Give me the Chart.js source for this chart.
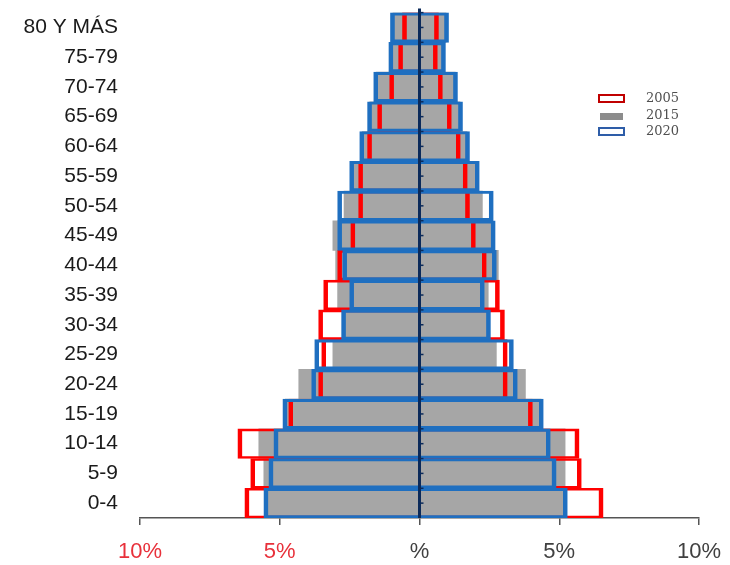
<!DOCTYPE html>
<html>
<head>
<meta charset="utf-8">
<script src="https://cdn.jsdelivr.net/npm/chart.js@4.4.1/dist/chart.umd.min.js"></script>
<style>
  body { margin: 0; background: #fff; }
  #wrap { position: relative; width: 730px; height: 565px; }
  #legend { position: absolute; left: 598px; top: 90px; font: 13px "DejaVu Serif", serif; color: #505050; }
  #legend div { height: 16.5px; line-height: 16.5px; white-space: nowrap; }
  #legend span { display: inline-block; width: 27px; height: 9px; box-sizing: border-box; margin-right: 21px; vertical-align: -1px; }
</style>
</head>
<body>
<div id="wrap">
  <canvas id="myChart"></canvas>
  <div id="legend">
    <div><span style="border:2px solid #c00000"></span>2005</div>
    <div><span style="background:#8c8c8c;height:7px;width:23px;margin-left:2px;margin-right:23px"></span>2015</div>
    <div><span style="border:2px solid #2e5da8"></span>2020</div>
  </div>
</div>
<script>
const ageGroups = ["80 Y MÁS","75-79","70-74","65-69","60-64","55-59","50-54","45-49","40-44","35-39","30-34","25-29","20-24","15-19","10-14","5-9","0-4"];

// % of population, left side (hombres) and right side (mujeres)
const left2005  = [0.61,0.75,1.07,1.50,1.86,2.18,2.18,2.46,2.93,3.43,3.61,3.50,3.61,4.68,6.50,6.04,6.25];
const right2005 = [0.68,0.64,0.82,1.14,1.46,1.71,1.79,2.00,2.39,2.86,3.04,3.14,3.14,4.04,5.71,5.79,6.57];
const left2015  = [0.95,1.00,1.55,1.78,2.05,2.40,2.70,3.10,3.00,2.93,2.75,3.10,4.32,4.80,5.75,5.57,5.45];
const right2015 = [0.95,0.85,1.28,1.45,1.70,2.05,2.25,2.60,2.82,2.46,2.45,2.75,3.79,4.35,5.21,5.21,5.20];
const left2020  = [1.04,1.10,1.64,1.86,2.14,2.50,2.93,2.93,2.75,2.50,2.79,3.75,3.86,4.89,5.21,5.39,5.57];
const right2020 = [1.04,0.93,1.36,1.54,1.79,2.14,2.64,2.71,2.75,2.32,2.54,3.36,3.50,4.43,4.68,4.89,5.29];

const xTicks = [-10,-5,0,5,10];

function span(l, r) { return l.map((v, i) => [-v, r[i]]); }

const zeroLine = {
  id: 'zeroLine',
  afterDatasetsDraw(chart) {
    const c = chart.ctx, x = chart.scales.x.getPixelForValue(0), a = chart.chartArea;
    c.save();
    c.strokeStyle = '#0b2a5a';
    c.lineWidth = 3;
    c.beginPath();
    c.moveTo(x, a.top - 4);
    c.lineTo(x, a.bottom);
    c.stroke();
    c.lineWidth = 1.5;
    for (let i = 0; i < ageGroups.length; i++) {
      for (const d of [-0.5, 0]) {
        const y = chart.scales.y.getPixelForValue(i + d);
        c.beginPath();
        c.moveTo(x, y);
        c.lineTo(x + 4, y);
        c.stroke();
      }
    }
    c.restore();
  }
};

const ctx = document.getElementById("myChart").getContext("2d");
const chart = new Chart(ctx, {
  type: "bar",
  data: {
    labels: ageGroups,
    datasets: [
      {
        label: '2005',
        data: span(left2005, right2005),
        backgroundColor: 'rgba(0,0,0,0)',
        borderColor: '#ff0000',
        borderWidth: {left: 4, right: 4, top: 2, bottom: 2},
        order: 2
      },
      {
        label: '2015',
        data: span(left2015, right2015),
        backgroundColor: '#a6a6a6',
        borderWidth: 0,
        order: 3
      },
      {
        label: '2020',
        data: span(left2020, right2020),
        backgroundColor: 'rgba(0,0,0,0)',
        borderColor: '#1f6fc0',
        borderWidth: {left: 4, right: 4, top: 2.5, bottom: 2.5},
        order: 1
      }
    ]
  },
  options: {
    indexAxis: 'y',
    responsive: true,
    maintainAspectRatio: false,
    animation: false,
    datasets: {
      bar: { grouped: false, barPercentage: 1, categoryPercentage: 1, borderSkipped: false }
    },
    layout: { padding: {left: 10, right: 31, top: 12, bottom: 0} },
    plugins: {
      legend: { display: false },
      tooltip: { enabled: false }
    },
    scales: {
      x: {
        min: -10,
        max: 10,
        afterBuildTicks: s => { s.ticks = xTicks.map(v => ({value: v})); },
        afterFit: s => { s.height = 47; s.paddingLeft = 0; s.paddingRight = 0; },
        grid: { drawOnChartArea: false, drawTicks: true, tickLength: 7, color: '#555', lineWidth: 1.5 },
        border: { display: true, color: '#555', width: 1.5 },
        ticks: {
          padding: 14,
          font: { family: 'Liberation Sans, Arial, sans-serif', size: 22 },
          color: c => c.tick && c.tick.value < 0 ? '#e8303a' : '#404040',
          callback: v => v === 0 ? '%' : Math.abs(v) + '%'
        }
      },
      y: {
        afterFit: s => { s.width = 130; },
        grid: { display: true, drawOnChartArea: false, drawTicks: true, tickLength: 22, color: 'rgba(0,0,0,0)' },
        border: { display: false },
        ticks: {
          padding: 0,
          autoSkip: false,
          font: { family: 'Liberation Sans, Arial, sans-serif', size: 21 },
          color: '#1a1a1a'
        }
      }
    }
  },
  plugins: [zeroLine]
});
</script>
</body>
</html>
